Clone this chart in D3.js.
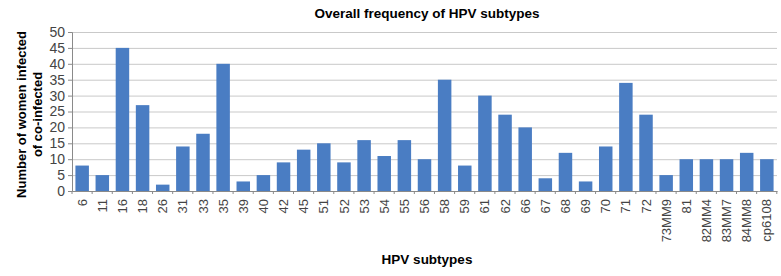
<!DOCTYPE html>
<html>
<head>
<style>
  body { margin: 0; background: #fff; font-family: Arial, "Liberation Sans", sans-serif; }
  .grid line { stroke: #c9c9c9; }
  .grid path { display: none; }
  .axis path, .axis line { stroke: #8a8a8a; }
  .axis text { fill: #444; }
</style>
<script src="https://cdn.jsdelivr.net/npm/d3@7"></script>
</head>
<body>
<svg id="chart"></svg>
<script>
let subtypes = ["6", "11", "16", "18", "26", "31", "33", "35", "39", "40", "42", "45",
  "51", "52", "53", "54", "55", "56", "58", "59", "61", "62", "66", "67", "68", "69",
  "70", "71", "72", "73MM9", "81", "82MM4", "83MM7", "84MM8", "cp6108"];
let counts = [8, 5, 45, 27, 2, 14, 18, 40, 3, 5, 9, 13,
  15, 9, 16, 11, 16, 10, 35, 8, 30, 24, 20, 4, 12, 3,
  14, 34, 24, 5, 10, 10, 10, 12, 10];
let yTicks = [0, 5, 10, 15, 20, 25, 30, 35, 40, 45, 50];

let width = 781, height = 276;
let margin = { top: 32, right: 4, bottom: 85, left: 72 };
let bodyWidth = width - margin.left - margin.right;
let bodyHeight = height - margin.top - margin.bottom;

let svg = d3.select("#chart").attr("width", width).attr("height", height);

let xScale = d3.scaleBand().domain(subtypes).range([0, bodyWidth]).paddingInner(0.33).paddingOuter(0.17);
let yScale = d3.scaleLinear().domain([0, 50]).range([bodyHeight, 0]);

let body = svg.append("g").attr("transform", `translate(${margin.left},${margin.top})`);

// gridlines
body.append("g").attr("class", "grid")
  .call(d3.axisLeft(yScale).tickValues(yTicks).tickSize(-bodyWidth).tickFormat(""));

// bars
body.selectAll(".bar").data(subtypes).enter().append("rect")
  .attr("class", "bar")
  .attr("x", d => xScale(d))
  .attr("width", xScale.bandwidth())
  .attr("y", (d, i) => yScale(counts[i]))
  .attr("height", (d, i) => bodyHeight - yScale(counts[i]))
  .attr("fill", "#4a7dc3");

// y axis
let yAxis = body.append("g").attr("class", "axis")
  .call(d3.axisLeft(yScale).tickValues(yTicks).tickSize(4).tickPadding(3));
yAxis.selectAll("text").style("font-size", "14px");

// x axis, ticks between categories
let step = xScale.step();
let xAxis = body.append("g").attr("class", "axis")
  .attr("transform", `translate(0,${bodyHeight})`)
  .call(d3.axisBottom(xScale).tickSize(0).tickPadding(5));
xAxis.selectAll("text")
  .style("font-size", "13px")
  .attr("transform", "rotate(-90)")
  .attr("text-anchor", "end")
  .attr("x", -8)
  .attr("y", 0)
  .attr("dy", "0.35em");
xAxis.selectAll(".sep").data(d3.range(subtypes.length + 1)).enter().append("line")
  .attr("class", "sep")
  .attr("x1", i => i * step).attr("x2", i => i * step)
  .attr("y1", 0).attr("y2", 3)
  .attr("stroke", "#8a8a8a");

// title
svg.append("text")
  .attr("x", 427).attr("y", 18)
  .attr("text-anchor", "middle")
  .style("font-size", "13.5px").style("font-weight", "bold")
  .text("Overall frequency of HPV subtypes");

// x label
svg.append("text")
  .attr("x", 427).attr("y", 264)
  .attr("text-anchor", "middle")
  .style("font-size", "13.5px").style("font-weight", "bold")
  .text("HPV subtypes");

// y label, two lines
let yLabel = svg.append("text")
  .attr("transform", `translate(26,${margin.top + bodyHeight / 2 + 3}) rotate(-90)`)
  .attr("text-anchor", "middle")
  .style("font-size", "13px").style("font-weight", "bold");
yLabel.append("tspan").attr("x", 0).attr("dy", 0).text("Number of women infected");
yLabel.append("tspan").attr("x", 0).attr("dy", "1.25em").text("of co-infected");
</script>
</body>
</html>
